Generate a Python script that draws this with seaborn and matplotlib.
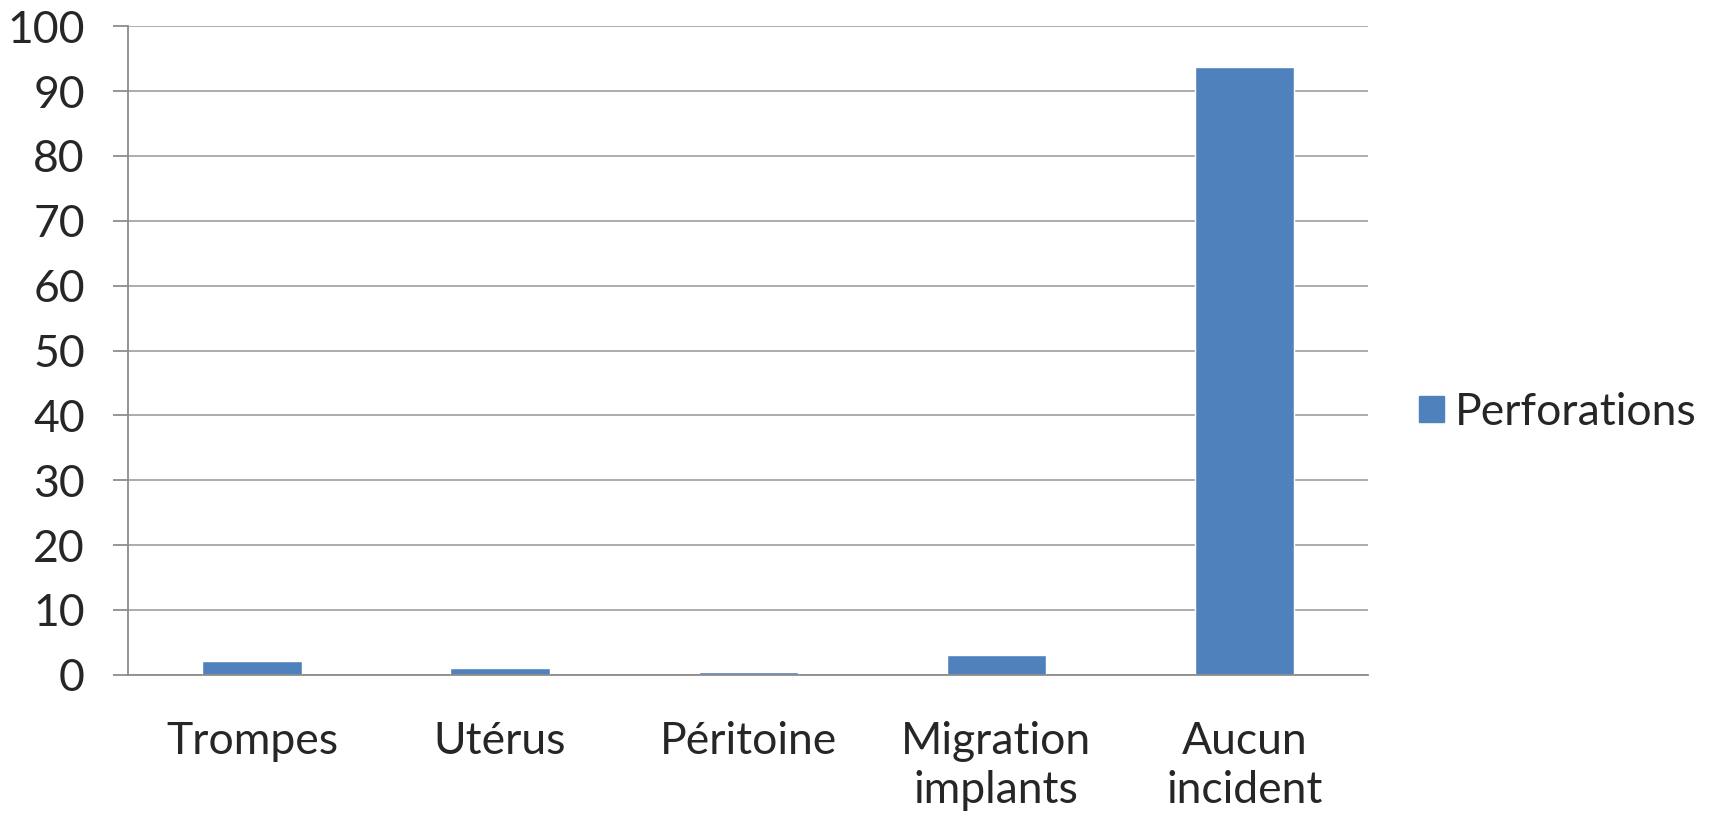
import numpy as np
import pandas as pd
import matplotlib
matplotlib.use("Agg")
import matplotlib.pyplot as plt
import seaborn as sns
from matplotlib.patches import Patch

categories = ["Trompes", "Utérus", "Péritoine", "Migration\nimplants", "Aucun\nincident"]
values = [2.1, 1.1, 0.4, 3.1, 93.7]
series_name = "Perforations"
y_ticks = [0, 10, 20, 30, 40, 50, 60, 70, 80, 90, 100]

bar_color = "#4F81BD"
grid_color = "#A6A6A6"
axis_color = "#8C8C8C"

sns.set_theme(style="white")
plt.rcParams["font.family"] = ["Lato", "DejaVu Sans"]

df = pd.DataFrame({"categorie": categories, "valeur": values})

fig = plt.figure(figsize=(17.17, 8.19), dpi=100)
ax = fig.add_axes([0.0745, 0.176, 0.7225, 0.792])

sns.barplot(data=df, x="categorie", y="valeur", color=bar_color, width=0.4,
            saturation=1, ax=ax)

ax.set_xlim(-0.5, len(categories) - 0.5)
ax.set_ylim(0, 100)
ax.set_yticks(y_ticks)
ax.set_yticklabels([str(t) for t in y_ticks], fontsize=32)
ax.yaxis.grid(True, color=grid_color, linewidth=1.3)
ax.set_axisbelow(True)

ax.set_xticks(range(len(categories)))
ax.set_xticklabels(categories, fontsize=32, linespacing=1.25)
ax.set_xticks(np.arange(-0.5, len(categories)), minor=True)
ax.tick_params(axis="x", which="major", length=0, pad=33)
ax.tick_params(axis="x", which="minor", length=11, color=axis_color, width=1.3)
ax.tick_params(axis="y", length=11, color=axis_color, width=1.3, left=True, pad=20)

ax.set_xlabel("")
ax.set_ylabel("")
for side in ["top", "right"]:
    ax.spines[side].set_visible(False)
for side in ["left", "bottom"]:
    ax.spines[side].set_color(axis_color)
    ax.spines[side].set_linewidth(1.3)

handles = [Patch(facecolor=bar_color, edgecolor=bar_color, label=series_name)]
ax.legend(handles=handles, loc="center left", bbox_to_anchor=(1.041, 0.405),
          frameon=False, fontsize=32, handlelength=0.55, handleheight=0.55,
          handletextpad=0.25, borderpad=0, borderaxespad=0)

fig.savefig("out.png", dpi=100)
